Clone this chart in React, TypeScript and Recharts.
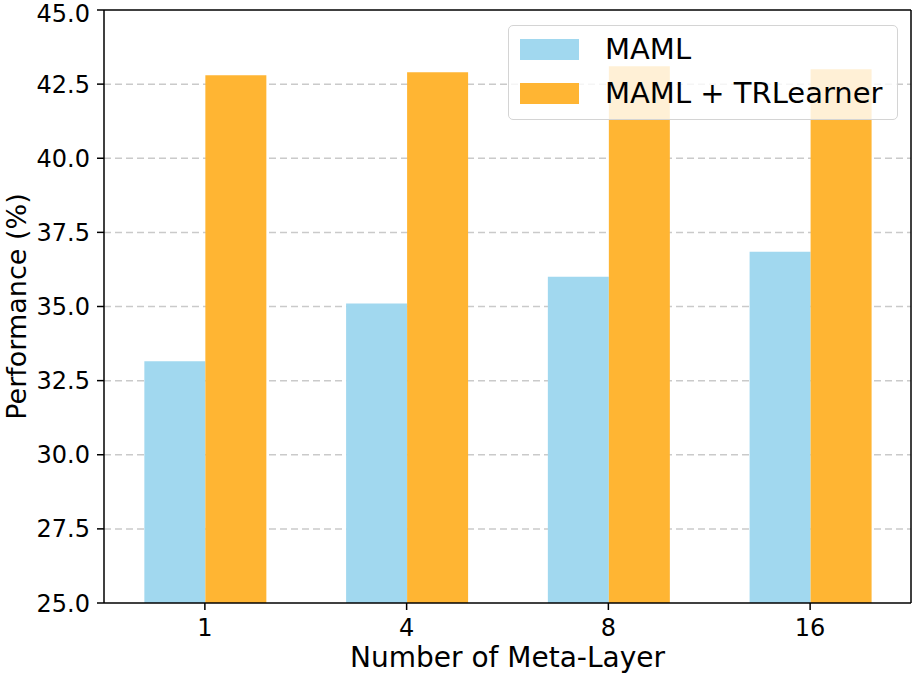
import {
  BarChart,
  Bar,
  XAxis,
  YAxis,
  CartesianGrid,
  Legend,
} from "recharts";

const layers = ["1", "4", "8", "16"];
const mamlScores = [33.15, 35.1, 36.0, 36.85];
const trlScores = [42.8, 42.9, 43.1, 43.0];
const yTicks = [25, 27.5, 30, 32.5, 35, 37.5, 40, 42.5, 45];
const gridLevels = [27.5, 30, 32.5, 35, 37.5, 40, 42.5];

const FONT = "'DejaVu Sans', sans-serif";
const BLUE = "#a1d8ef";
const ORANGE = "#ffb533";

const data = layers.map((layer, i) => ({
  layer,
  maml: mamlScores[i],
  trl: trlScores[i],
}));

function LegendBox({ payload }: any) {
  const items = payload ?? [];
  return (
    <div
      style={{
        width: 390,
        height: 95,
        boxSizing: "border-box",
        border: "1.5px solid #d4d4d4",
        borderRadius: 5,
        background: "rgba(255,255,255,0.8)",
        paddingTop: 1,
        paddingLeft: 11,
        fontFamily: FONT,
      }}
    >
      {items.map((item: any) => (
        <div
          key={item.value}
          style={{ display: "flex", alignItems: "center", height: 44 }}
        >
          <span
            style={{
              display: "inline-block",
              width: 59,
              height: 21,
              background: item.color,
              marginRight: 26,
            }}
          />
          <span style={{ fontSize: 29, lineHeight: 1, color: "#000" }}>
            {item.value}
          </span>
        </div>
      ))}
    </div>
  );
}

export default function App() {
  return (
    <div style={{ position: "absolute", left: 0, top: 0, background: "#fff" }}>
      <BarChart
        width={913}
        height={676}
        data={data}
        margin={{ top: 9, right: 1, bottom: 0, left: 0 }}
        barCategoryGap="20%"
        barGap={0}
      >
        <CartesianGrid
          vertical={false}
          stroke="#cacaca"
          strokeWidth={1.5}
          strokeDasharray="7 4"
          horizontalValues={gridLevels}
        />
        <XAxis
          dataKey="layer"
          height={73}
          tickSize={7}
          tickMargin={9}
          stroke="#000"
          strokeWidth={1.5}
          tick={{ fill: "#000", fontSize: 24, fontFamily: FONT }}
          label={{
            value: "Number of Meta-Layer",
            position: "insideBottom",
            offset: 9,
            style: { fill: "#000", fontSize: 28, fontFamily: FONT },
          }}
        />
        <XAxis
          xAxisId="top"
          dataKey="layer"
          orientation="top"
          height={1}
          tick={false}
          tickLine={false}
          stroke="#000"
          strokeWidth={1.5}
        />
        <YAxis
          domain={[25, 45]}
          ticks={yTicks}
          width={104}
          tickSize={7}
          tickMargin={7}
          stroke="#000"
          strokeWidth={1.5}
          tickFormatter={(v: number) => v.toFixed(1)}
          tick={{ fill: "#000", fontSize: 24, fontFamily: FONT }}
          label={{
            value: "Performance (%)",
            angle: -90,
            position: "insideLeft",
            offset: 16,
            style: {
              fill: "#000",
              fontSize: 27,
              fontFamily: FONT,
              textAnchor: "middle",
            },
          }}
        />
        <YAxis
          yAxisId="right"
          orientation="right"
          domain={[25, 45]}
          width={1}
          tick={false}
          tickLine={false}
          stroke="#000"
          strokeWidth={1.5}
        />
        <Bar dataKey="maml" name="MAML" fill={BLUE} isAnimationActive={false} />
        <Bar
          dataKey="trl"
          name="MAML + TRLearner"
          fill={ORANGE}
          isAnimationActive={false}
        />
        <Legend
          layout="vertical"
          align="center"
          verticalAlign="middle"
          content={<LegendBox />}
          wrapperStyle={{ left: 508, top: 25, width: 390, height: 95 }}
        />
      </BarChart>
    </div>
  );
}
